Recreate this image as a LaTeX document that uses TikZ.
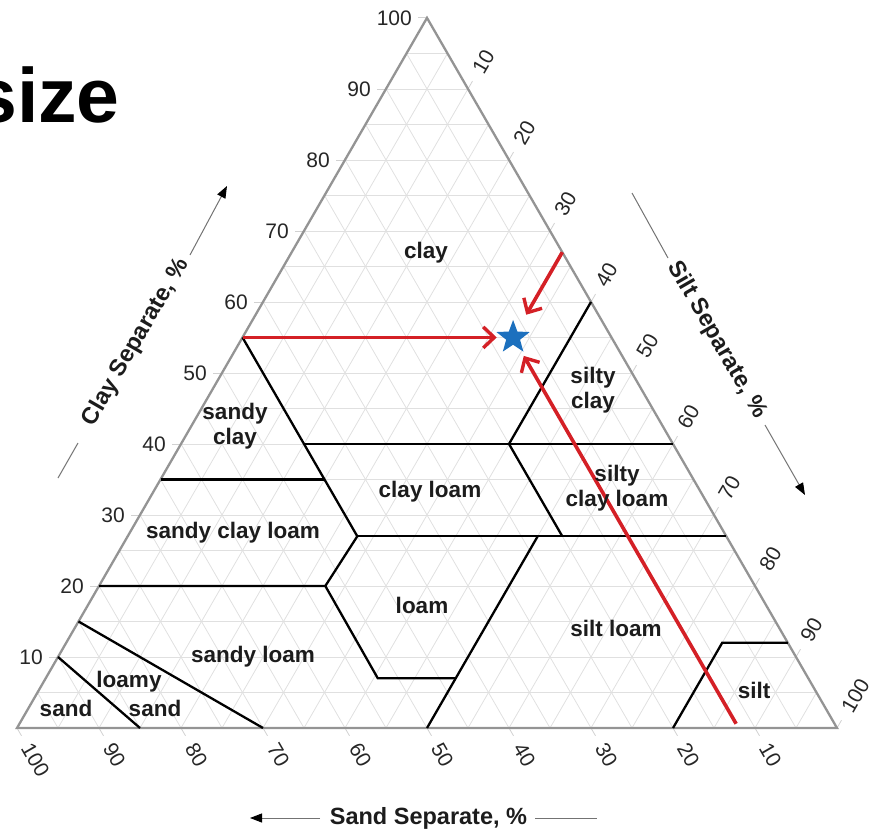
\documentclass[tikz,border=0pt]{standalone}
\usepackage{fontspec}
\setmainfont{Liberation Sans}
\usetikzlibrary{arrows.meta,shapes.geometric}
\definecolor{redc}{RGB}{212,32,38}
\definecolor{starblue}{RGB}{28,112,190}
\definecolor{txt}{RGB}{28,28,28}
\begin{document}
\begin{tikzpicture}[x=1pt,y=-1pt,
  tedge/.style={draw=black!42,line width=2.3pt,line join=miter},
  gridl/.style={draw=black!12,line width=0.8pt},
  tickl/.style={draw=black!18,line width=0.8pt},
  bound/.style={draw=black,line width=2.3pt,line join=miter},
  redarr/.style={draw=redc,line width=3.6pt,-{Straight Barb[length=11pt,width=21pt,line width=3.4pt]}},
  numlab/.style={font=\fontsize{21}{24}\selectfont,text=black!85,inner sep=0pt},
  reglab/.style={font=\fontsize{22.5}{25}\selectfont\bfseries,text=txt,align=center,inner sep=0pt},
  axtitle/.style={font=\fontsize{23.5}{26}\selectfont\bfseries,text=txt,inner sep=0pt},
  axline/.style={draw=black!55,line width=1pt},
  axarrow/.style={draw=black!55,line width=1pt,-{Triangle[length=12pt,width=9pt,color=black]}},
  startype/.style={star,star points=5,star point ratio=2.4,fill=starblue,minimum size=35pt,inner sep=0pt}]
\useasboundingbox (0,0) rectangle (881,829);
\clip (0,0) rectangle (881,829);

\node[anchor=base east,font=\fontsize{77}{80}\selectfont\bfseries,inner sep=0pt] (ttl) at (120,123) {size};

\begin{scope}[xshift=17pt,yshift=-728pt,x={(8.2pt,0pt)},y={(4.1pt,7.101pt)}]
  \coordinate (A) at (0,0);
  \coordinate (B) at (100,0);
  \coordinate (C) at (0,100);
  % grid
  \foreach \i in {5,10,...,95}{
    \draw[gridl] (0,\i) -- ({100-\i},\i);
    \draw[gridl] (\i,0) -- (\i,{100-\i});
    \draw[gridl] ({100-\i},0) -- (0,{100-\i});
  }
  % ticks and numbers
  \foreach \v in {10,20,...,100}{
    \draw[tickl] (0,\v) -- ++(-9pt,0pt);
    \draw[tickl] (\v,{100-\v}) -- ++(60:9pt);
    \draw[tickl] ({100-\v},0) -- ++(-60:9pt);
    \path (0,\v) ++(-15pt,0pt) node[numlab,anchor=east] (cl\v) {\v};
    \path (\v,{100-\v}) ++(60:19pt) node[numlab,anchor=west,rotate=60] (si\v) {\v};
    \path ({100-\v},0) ++(-60:19pt) node[numlab,anchor=west,rotate=-60] (sa\v) {\v};
  }
  \draw[tedge] (A) -- (B) -- (C) -- cycle;
  % class boundaries (silt, clay)
  \draw[bound] (0,55) -- (28,27);
  \draw[bound] (15,40) -- (60,40);
  \draw[bound] (40,60) -- (40,40) -- (53,27);
  \draw[bound] (28,27) -- (73,27);
  \draw[bound] (0,35) -- (20,35);
  \draw[bound] (0,20) -- (27.6,20) -- (28,27);
  \draw[bound] (27.6,20) -- (40.5,7) -- (50,7);
  \draw[bound] (50,0) -- (50,27);
  \draw[bound] (80,0) -- (80,12) -- (88,12);
  \draw[bound] (0,15) -- (30,0);
  \draw[bound] (0,10) -- (15,0);
  % example point
  \coordinate (r1s) at (0,55);
  \coordinate (r1e) at (31,55);
  \coordinate (r2s) at (33,67);
  \coordinate (r2e) at (33,58.2);
  \coordinate (r3s) at (87.4,0.6);
  \coordinate (r3e) at (35.6,52.4);
  \draw[redarr] (r1s) -- (r1e);
  \draw[redarr] (r2s) -- (r2e);
  \draw[redarr] (r3s) -- (r3e);
  \node[startype] (st) at (33,55) {};
\end{scope}

% region labels
\node[reglab] (lclay) at (426,253) {clay};
\node[reglab] (lsc) at (235,426) {sandy\\clay};
\node[reglab] (lsic) at (593,390) {silty\\clay};
\node[reglab] (lcl) at (430,492) {clay loam};
\node[reglab] (lsicl) at (617,488) {silty\\clay loam};
\node[reglab] (lscl) at (233,533) {sandy clay loam};
\node[reglab] (ll) at (422,605) {loam};
\node[reglab] (lsil) at (616,628) {silt loam};
\node[reglab] (lsl) at (253,657) {sandy loam};
\node[reglab] (lls1) at (129,682) {loamy};
\node[reglab] (lls2) at (155,708) {sand};
\node[reglab] (ls) at (66,708) {sand};
\node[reglab] (lsi) at (754,690) {silt};

% axis titles
\coordinate (cla) at (58,478);
\coordinate (clb) at (78,443);
\coordinate (clc) at (190,255);
\coordinate (cld) at (227,186);
\draw[axline] (cla) -- (clb);
\draw[axarrow] (clc) -- (cld);
\node[axtitle,rotate=60] (tclay) at (136,342) {Clay Separate, \%};

\coordinate (sia) at (632,193);
\coordinate (sib) at (668,258);
\coordinate (sic) at (765,425);
\coordinate (sid) at (805,495);
\draw[axline] (sia) -- (sib);
\draw[axarrow] (sic) -- (sid);
\node[axtitle,rotate=-60] (tsilt) at (717,340) {Silt Separate, \%};

\coordinate (saa) at (320,818);
\coordinate (sab) at (250,818);
\coordinate (sac) at (535,818);
\coordinate (sad) at (597,818);
\draw[axarrow] (saa) -- (sab);
\draw[axline] (sac) -- (sad);
\node[axtitle,anchor=base] (tsand) at (428.5,824) {Sand Separate, \%};
\end{tikzpicture}
\end{document}
